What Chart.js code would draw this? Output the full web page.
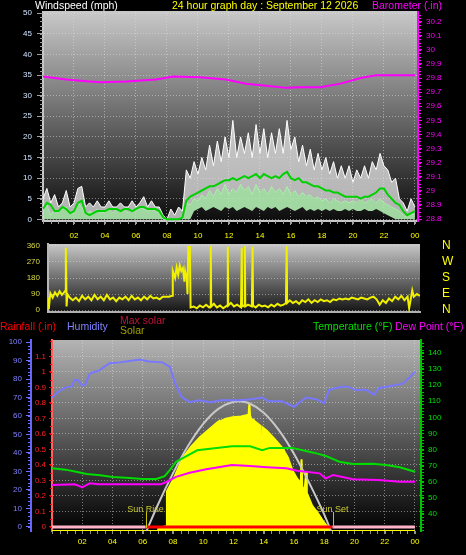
<!DOCTYPE html>
<html>
<head>
<meta charset="utf-8">
<script src="https://cdn.jsdelivr.net/npm/chart.js@4.4.1/dist/chart.umd.min.js"></script>
<style>
  body { margin: 0; background: #000; }
  #page { position: relative; width: 466px; height: 555px; overflow: hidden; background: #000; }
  canvas { position: absolute; left: 0; }
  .lbl { position: absolute; font: 10.5px 'Liberation Sans', Arial, sans-serif; line-height: 12px; white-space: nowrap; }
</style>
</head>
<body>
<div id="page">
  <canvas id="windChart" width="466" height="243" style="top:0"></canvas>
  <canvas id="dirChart" width="466" height="85" style="top:233px"></canvas>
  <canvas id="envChart" width="466" height="219" style="top:336px"></canvas>

  <div class="lbl" style="left:35px;top:-1px;color:#fff">Windspeed (mph)</div>
  <div class="lbl" style="left:172px;top:-1px;color:#ffff00">24 hour graph day : September 12 2026</div>
  <div class="lbl" style="left:372px;top:-1px;color:#ff00ff">Barometer (.in)</div>

  <div class="lbl" style="left:0;top:320px;color:#ff0000">Rainfall (.in)</div>
  <div class="lbl" style="left:67px;top:320px;color:#8080ff">Humidity</div>
  <div class="lbl" style="left:120px;top:314px;color:#c0143c">Max solar</div>
  <div class="lbl" style="left:120px;top:324px;color:#a0a000">Solar</div>
  <div class="lbl" style="left:313px;top:320px;color:#00e000">Temperature (°F)</div>
  <div class="lbl" style="left:395px;top:320px;color:#ff00ff">Dew Point (°F)</div>
</div>
<script>
// tick labels
const hourTicks = [2, 4, 6, 8, 10, 12, 14, 16, 18, 20, 22, 24];
const windTicks = [0, 5, 10, 15, 20, 25, 30, 35, 40, 45, 50];
const baroTicks = [28.8, 28.9, 29, 29.1, 29.2, 29.3, 29.4, 29.5, 29.6, 29.7, 29.8, 29.9, 30, 30.1, 30.2];
const dirTicks = [0, 90, 180, 270, 360];
const compass = ['N', 'E', 'S', 'W', 'N'];
const humTicks = [0, 10, 20, 30, 40, 50, 60, 70, 80, 90, 100];
const rainTicks = [0, 0.1, 0.2, 0.3, 0.4, 0.5, 0.6, 0.7, 0.8, 0.9, 1, 1.1];
const tempTicks = [40, 50, 60, 70, 80, 90, 100, 110, 120, 130, 140];

// wind speed, every 15 minutes from 00:00 to 24:00 (mph)
const gust = [5, 7.5, 4, 6, 3, 4, 7, 3, 4, 7.5, 8, 3, 4, 3, 4.5, 3, 3, 4.5, 3, 3,
  4, 3, 3, 4.5, 3, 4, 5.5, 3, 4.5, 3, 3, 1, 0, 2.5, 1, 3, 2, 12, 10, 14,
  11, 15, 12, 18, 13, 19, 14, 20, 15, 24, 15, 20, 16, 21, 15, 23, 16, 22, 15, 21,
  16, 22, 16, 24, 17, 20, 14, 18, 13, 17, 12, 16, 12, 15, 11, 14, 10, 13, 10, 13,
  9, 12, 10, 13, 10, 14, 12, 16, 13, 12, 9, 10, 5, 4, 2, 5, 3];
const avgSpeed = [2.5, 4, 3.5, 2, 2, 3, 2.5, 1.5, 2, 4, 4.5, 1.5, 1, 1.5, 2, 2, 2, 2.5, 2.5, 2.5,
  2, 2.5, 2.5, 2, 2.5, 3, 3, 2.5, 2.5, 2.5, 2, 0.5, 0, 0, 0, 0, 0.5, 4.5, 5.5, 6,
  6.5, 7, 7.5, 8, 8, 8.5, 9, 9.5, 9.5, 10, 9.5, 10, 10.5, 10, 10.5, 11, 10, 11, 10.5, 10,
  10.5, 10, 11, 11.5, 10, 9.5, 10, 9, 9, 8.5, 8, 8, 7.5, 7, 7, 6.5, 6.5, 6, 5.5, 5.5,
  5.5, 5.5, 5, 5.5, 5.5, 6, 6.5, 7.5, 7.5, 6, 5, 4, 3.5, 2, 1, 1.5, 2];
const speed = [2, 3.5, 1, 2.5, 1.5, 2.5, 3, 1, 2, 4, 3, 1, 2, 1.5, 2.5, 1.5, 2, 2.5, 1.5, 2.5,
  2, 2.5, 1.5, 2.5, 2, 3, 2.5, 2, 2.5, 2, 1.5, 0, 0, 0, 0, 0, 1, 4, 3.5, 5,
  4.5, 6, 5, 7, 5.5, 7.5, 6, 8.5, 6, 7.5, 6.5, 8.5, 7, 8, 6, 8.5, 6.5, 7.5, 6, 8,
  6.5, 7.5, 6, 8, 6, 7, 5.5, 6.5, 5.5, 6, 5, 5.5, 4.5, 5, 4, 5, 4.5, 4, 4.5, 4,
  4.5, 4, 5, 4, 4.5, 5, 4, 5, 4, 3.5, 3, 2.5, 2, 1, 0.5, 1.5, 1];
const lull = [0, 0, 0, 0, 0, 0, 0, 0, 0, 0, 0, 0, 0, 0, 0, 0, 0, 0, 0, 0,
  0, 0, 0, 0, 0, 0, 0, 0, 0, 0, 0, 0, 0, 0, 0, 0, 0, 0, 0, 2,
  2.5, 3, 2, 2.5, 3, 2.5, 2, 3, 2.5, 3, 2, 2.5, 3, 2.5, 2, 3, 2.5, 2, 3, 2.5,
  3, 2, 2.5, 3, 2.5, 2, 2.5, 3, 2, 2.5, 2, 2.5, 2, 2.5, 2, 2.5, 2, 2, 2.5, 2,
  2.5, 2, 2, 2.5, 2, 2, 2.5, 2, 1.5, 1, 0.5, 0, 0, 0, 0, 0, 0];
const windHours = gust.map((_, i) => i / 4);

// barometer (in)
const baroHours = [0, 1.5, 3, 3.7, 5.4, 7.3, 8.4, 10.1, 11.8, 13.1, 14.4, 15.7, 16.6, 17.9, 19.2, 20.5, 21.5, 22.6, 24];
const baro = [29.81, 29.79, 29.775, 29.77, 29.775, 29.79, 29.81, 29.805, 29.79, 29.76, 29.745, 29.73, 29.735, 29.735, 29.76, 29.8, 29.82, 29.82, 29.82];

// wind direction (degrees)
const dirHours = [0, 0.05, 0.15, 0.3, 0.45, 0.6, 0.75, 0.9, 1.05, 1.12, 1.15, 1.2, 1.25, 1.4, 1.6, 1.8, 2, 2.2, 2.4, 2.6,
  2.8, 3, 3.2, 3.4, 3.6, 3.8, 4, 4.2, 4.4, 4.6, 4.8, 5, 5.2, 5.4, 5.6, 5.8, 6, 6.2, 6.4, 6.6,
  6.8, 7, 7.2, 7.4, 7.6, 7.8, 8, 8.05, 8.2, 8.3, 8.4, 8.5, 8.6, 8.7, 8.8, 8.85, 8.95, 9, 9.05, 9.1,
  9.15, 9.2, 9.4, 9.6, 9.8, 10, 10.2, 10.4, 10.48, 10.5, 10.53, 10.7, 10.9, 11.1, 11.3, 11.55, 11.6, 11.63, 11.8, 12,
  12.2, 12.45, 12.5, 12.53, 12.65, 12.7, 12.73, 12.9, 13.15, 13.2, 13.23, 13.4, 13.6, 13.8, 14, 14.2, 14.4, 14.6, 14.8, 15,
  15.2, 15.35, 15.4, 15.43, 15.6, 15.8, 16, 16.2, 16.4, 16.6, 16.8, 17, 17.2, 17.4, 17.6, 17.8, 18, 18.2, 18.4, 18.6,
  18.8, 19, 19.2, 19.4, 19.6, 19.8, 20, 20.2, 20.4, 20.6, 20.8, 21, 21.2, 21.4, 21.6, 21.8, 22, 22.2, 22.4, 22.6,
  22.8, 23, 23.2, 23.3, 23.4, 23.5, 23.6, 23.8, 24];
const windDir = [70, 5, 95, 70, 100, 80, 105, 85, 100, 110, 350, 20, 90, 70, 55, 70, 50, 80, 60, 75,
  55, 85, 60, 75, 55, 85, 60, 70, 50, 70, 60, 75, 55, 80, 60, 70, 55, 75, 60, 80,
  65, 70, 60, 75, 75, 75, 80, 220, 180, 240, 200, 250, 220, 235, 160, 220, 180, 90, 360, 300,
  360, 15, 20, 10, 25, 15, 30, 15, 20, 360, 20, 35, 15, 25, 10, 25, 355, 25, 40, 20,
  30, 15, 350, 20, 25, 360, 20, 30, 20, 355, 25, 15, 30, 20, 25, 15, 30, 20, 35, 25,
  30, 40, 360, 40, 55, 40, 50, 35, 55, 45, 60, 40, 55, 45, 60, 50, 55, 45, 60, 55,
  65, 60, 65, 60, 70, 65, 60, 70, 65, 60, 70, 75, 60, 30, 55, 40, 65, 50, 75, 60,
  80, 55, 75, 10, 60, 110, 75, 90, 80];

// humidity (%)
const humHours = [0, 0.4, 0.9, 1.3, 1.5, 1.7, 2, 2.2, 2.5, 2.7, 3.1, 3.8, 4.5, 5.8, 6.4, 7.3, 7.8, 8.1, 8.55, 9.1,
  9.7, 10.5, 11.2, 12.4, 13.2, 13.9, 14.3, 15.2, 16, 16.8, 17.5, 18, 18.3, 19, 19.5, 20.1, 20.8, 21.3, 21.6, 22.2,
  23.2, 23.6, 24];
const humidity = [70, 73, 75.5, 76, 79.5, 79.5, 76.5, 77, 83, 83.5, 84.5, 88.5, 89, 90.5, 89.5, 89, 86.5, 78.5, 70.5, 67.5,
  68.5, 67.5, 68.5, 68.5, 69, 70, 68, 68, 65, 70, 69, 67, 74, 75.5, 76, 74, 74, 71.5, 75, 76,
  77.5, 80.5, 84];

// temperature and dew point (F)
const tempHours = [0, 0.9, 1.6, 2.3, 3.2, 4, 4.9, 6, 6.9, 7.45, 7.8, 8.2, 8.8, 9.6, 10.6, 11.9, 13.1, 13.9, 14.4, 15.9,
  17, 17.5, 18.1, 19, 19.9, 21.2, 22.1, 23, 24];
const temperature = [68.3, 67.5, 66.2, 64.8, 64, 63, 62.5, 61.7, 61.7, 63.5, 67.3, 72.4, 75.5, 79.5, 80.7, 82, 82, 79.5, 81, 81,
  78.6, 77.6, 76, 72.4, 71, 71.2, 70.4, 69, 66.2];
const dewHours = [0, 1.5, 1.9, 2, 2.3, 2.5, 3.1, 5, 7.2, 7.6, 8.2, 9.1, 10.2, 11.9, 13.1, 14.2, 15.5, 16.2, 16.8, 17.7,
  18.1, 18.6, 19.9, 21.6, 23, 24];
const dewPoint = [58, 58.4, 57, 56.5, 58, 59, 58.5, 58.5, 58.5, 60, 63, 65.6, 67.7, 70.4, 69.8, 69, 68.3, 66.8, 66.2, 65.2,
  62, 64.2, 61.5, 61, 60, 60];

// solar radiation (W/m2)
const solarHours = [0, 7, 7.05, 7.55, 7.6, 8, 8.65, 9.2, 9.8, 10.4, 10.9, 11.05, 11.1, 11.15, 11.5, 11.95, 12.5, 13, 13.05, 13.1,
  13.15, 13.2, 13.3, 13.35, 13.4, 13.8, 13.9, 13.95, 14.2, 14.7, 15.25, 15.6, 15.9, 16.2, 16.45, 16.5, 16.55, 16.7, 16.8, 16.85,
  17.2, 17.6, 17.9, 18.2, 18.4, 24];
const solar = [0, 0, 20, 30, 250, 320, 460, 530, 590, 640, 680, 690, 560, 690, 705, 715, 720, 730, 800, 720,
  170, 700, 700, 240, 690, 660, 320, 650, 630, 580, 520, 460, 380, 330, 300, 450, 280, 250, 370, 240,
  160, 110, 65, 30, 0, 0];
const maxSolarHours = [6.25, 7, 8, 9, 10, 11, 12, 12.35, 13, 14, 15, 16, 17, 18, 18.45];
const maxSolar = [0, 165, 362, 535, 673, 767, 812, 815, 804, 743, 634, 486, 304, 104, 0];

// rainfall (in)
const rainHours = [0, 6.2, 18.55, 24];
const rain = [0, 0, 0, 0];

const sunTimes = [6.2, 18.55];
const sunLabels = ['Sun Rise', 'Sun Set'];

Chart.defaults.font.family = "'Liberation Sans', Arial, sans-serif";
Chart.defaults.font.size = 8;
Chart.defaults.animation = false;
Chart.defaults.plugins.legend.display = false;
Chart.defaults.plugins.tooltip.enabled = false;
Chart.defaults.elements.point.radius = 0;

const pts = (xs, ys) => ys.map((v, i) => ({ x: xs[i], y: v }));
const fixedTicks = list => scale => { scale.ticks = list.map(v => ({ value: v })); };
const fitBox = (w, h) => scale => {
  if (w !== null) scale.width = w;
  if (h !== null) scale.height = h;
  scale.paddingTop = scale.paddingBottom = scale.paddingLeft = scale.paddingRight = 0;
};
const trim = v => String(Number(v.toFixed(2)));
const hh = v => String(v % 24).padStart(2, '0');
const dotted = 'rgba(225,225,225,0.5)';

// grey gradient behind each plot
const panelBg = {
  id: 'panelBg',
  beforeDraw(chart, args, opts) {
    const { ctx, chartArea: a } = chart;
    const g = ctx.createLinearGradient(0, a.top, 0, a.bottom);
    g.addColorStop(0, opts.top);
    g.addColorStop(1, opts.bottom);
    ctx.save();
    ctx.fillStyle = g;
    ctx.fillRect(a.left, a.top, a.width, a.height);
    if (opts.topLine) {
      ctx.strokeStyle = opts.topLine;
      ctx.lineWidth = 2;
      ctx.beginPath();
      ctx.moveTo(a.left, a.top);
      ctx.lineTo(a.right, a.top);
      ctx.stroke();
    }
    ctx.restore();
  }
};

// small ticks between the labelled ones
const minorTicks = {
  id: 'minorTicks',
  afterDraw(chart, args, opts) {
    const ctx = chart.ctx;
    ctx.save();
    ctx.lineWidth = 1;
    (opts.items || []).forEach(it => {
      const s = chart.scales[it.scale];
      ctx.strokeStyle = it.color;
      for (let v = it.from; v <= it.to + 1e-9; v += it.step) {
        const p = Math.round(s.getPixelForValue(v)) + 0.5;
        ctx.beginPath();
        if (s.isHorizontal()) {
          ctx.moveTo(p, s.top); ctx.lineTo(p, s.top + it.len);
        } else if (s.position === 'left') {
          ctx.moveTo(s.right, p); ctx.lineTo(s.right - it.len, p);
        } else {
          ctx.moveTo(s.left, p); ctx.lineTo(s.left + it.len, p);
        }
        ctx.stroke();
      }
    });
    ctx.restore();
  }
};

// sunrise / sunset markers
const sunMarks = {
  id: 'sunMarks',
  afterDatasetsDraw(chart) {
    const { ctx, chartArea: a, scales: { x } } = chart;
    ctx.save();
    ctx.font = "9px 'Liberation Sans', Arial, sans-serif";
    ctx.textAlign = 'center';
    ctx.textBaseline = 'alphabetic';
    sunTimes.forEach((t, i) => {
      const px = Math.round(x.getPixelForValue(t)) + 0.5;
      ctx.strokeStyle = '#c8c800';
      ctx.lineWidth = 1;
      ctx.beginPath();
      ctx.moveTo(px, a.bottom - 19);
      ctx.lineTo(px, a.bottom - 3);
      ctx.stroke();
      ctx.fillStyle = '#c8c832';
      ctx.fillText(sunLabels[i], px - 1, a.bottom - 19);
    });
    ctx.restore();
  }
};

// wind speed + barometer
new Chart(document.getElementById('windChart'), {
  type: 'line',
  data: {
    datasets: [
      { data: pts(baroHours, baro), yAxisID: 'yBaro', borderColor: '#ff00ff', borderWidth: 2, order: 0 },
      { data: pts(windHours, avgSpeed), yAxisID: 'y', borderColor: '#00d000', borderWidth: 2, order: 1 },
      { data: pts(windHours, gust), yAxisID: 'y', borderColor: '#ffffff', borderWidth: 1,
        fill: 3, backgroundColor: 'rgba(232,232,232,0.75)', order: 3 },
      { data: pts(windHours, speed), yAxisID: 'y', borderColor: '#b4f0b4', borderWidth: 1,
        fill: 4, backgroundColor: 'rgba(176,236,176,0.9)', order: 2 },
      { data: pts(windHours, lull), yAxisID: 'y', borderColor: 'rgba(0,0,0,0)', borderWidth: 0, fill: false, order: 4 }
    ]
  },
  options: {
    responsive: false,
    devicePixelRatio: 1,
    layout: { padding: { top: 12 } },
    scales: {
      x: {
        type: 'linear', min: 0, max: 24.2,
        afterBuildTicks: fixedTicks(hourTicks), afterFit: fitBox(null, 22),
        ticks: { color: '#ffff00', padding: 6, callback: hh, maxRotation: 0, autoSkip: false },
        grid: { color: dotted, tickColor: '#a0a0a0', tickLength: 4 },
        border: { color: '#c8c8c8', width: 2, dash: [1, 2] }
      },
      y: {
        position: 'left', min: -0.4, max: 50.3,
        afterBuildTicks: fixedTicks(windTicks), afterFit: fitBox(43, null),
        ticks: { color: '#d0e4ff', padding: 5, autoSkip: false },
        grid: { color: dotted, tickColor: '#a0a0a0', tickLength: 6 },
        border: { color: '#c8c8c8', width: 2, dash: [1, 2] }
      },
      yBaro: {
        position: 'right', min: 28.786, max: 30.268,
        afterBuildTicks: fixedTicks(baroTicks), afterFit: fitBox(48, null),
        ticks: { color: '#ff00ff', padding: 4, callback: trim, autoSkip: false },
        grid: { drawOnChartArea: false, tickColor: '#ff00ff', tickLength: 4 },
        border: { color: '#ff00ff', width: 2 }
      }
    },
    plugins: {
      panelBg: { top: '#c8c8c8', bottom: '#0c0c0c', topLine: '#c8c8c8' },
      minorTicks: { items: [
        { scale: 'y', from: 0, to: 50, step: 1, len: 3, color: '#a0a0a0' },
        { scale: 'yBaro', from: 28.8, to: 30.25, step: 0.025, len: 3, color: '#ff00ff' },
        { scale: 'x', from: 0, to: 24, step: 0.5, len: 3, color: '#a0a0a0' }
      ] }
    }
  },
  plugins: [panelBg, minorTicks]
});

// wind direction
new Chart(document.getElementById('dirChart'), {
  type: 'line',
  data: {
    datasets: [
      { data: pts(dirHours, windDir), borderColor: '#f0f000', borderWidth: 2 }
    ]
  },
  options: {
    responsive: false,
    devicePixelRatio: 1,
    layout: { padding: { top: 11 } },
    scales: {
      x: {
        type: 'linear', min: 0, max: 24, afterFit: fitBox(null, 6),
        ticks: { display: false },
        grid: { display: false },
        border: { color: '#b0b0b0', width: 2 }
      },
      y: {
        position: 'left', min: -11, max: 371,
        afterBuildTicks: fixedTicks(dirTicks), afterFit: fitBox(48, null),
        ticks: { color: '#d8d848', padding: 8, autoSkip: false },
        grid: { color: dotted, drawTicks: false },
        border: { color: '#b8b8b8', width: 2, dash: [1, 2] }
      },
      yCompass: {
        position: 'right', min: -11, max: 371,
        afterBuildTicks: fixedTicks(dirTicks), afterFit: fitBox(46, null),
        ticks: { color: '#ffff00', font: { size: 12 }, padding: 14, autoSkip: false,
          callback: v => compass[dirTicks.indexOf(v)] },
        grid: { display: false },
        border: { display: false }
      }
    },
    plugins: {
      panelBg: { top: '#c8c8c8', bottom: '#141414' }
    }
  },
  plugins: [panelBg]
});

// rainfall, humidity, solar, temperature, dew point
new Chart(document.getElementById('envChart'), {
  type: 'line',
  data: {
    datasets: [
      { data: pts(rainHours, rain), yAxisID: 'yRain', borderWidth: 3, borderColor: '#ff0000', order: 0,
        segment: { borderColor: c => (c.p0.parsed.x >= sunTimes[0] && c.p1.parsed.x <= sunTimes[1]) ? '#ff0000' : '#ffb4c8' } },
      { data: pts(tempHours, temperature), yAxisID: 'yTemp', borderColor: '#00dc00', borderWidth: 2, order: 1 },
      { data: pts(dewHours, dewPoint), yAxisID: 'yTemp', borderColor: '#ff00ff', borderWidth: 2, order: 2 },
      { data: pts(humHours, humidity), yAxisID: 'yHum', borderColor: '#7878ff', borderWidth: 2, order: 3 },
      { data: pts(maxSolarHours, maxSolar), yAxisID: 'ySolar', borderColor: '#c8c8c8', borderWidth: 2,
        cubicInterpolationMode: 'monotone', order: 4 },
      { data: pts(solarHours, solar), yAxisID: 'ySolar', borderColor: '#ffff00', borderWidth: 2,
        fill: 'origin', backgroundColor: '#ffff00', order: 5 }
    ]
  },
  options: {
    responsive: false,
    devicePixelRatio: 1,
    layout: { padding: { top: 4 } },
    scales: {
      x: {
        type: 'linear', min: 0, max: 24.4,
        afterBuildTicks: fixedTicks(hourTicks), afterFit: fitBox(null, 24),
        ticks: { color: '#ffff00', padding: 3, callback: hh, maxRotation: 0, autoSkip: false },
        grid: { color: dotted, tickColor: '#909090', tickLength: 3 },
        border: { display: false, dash: [1, 2] }
      },
      yHum: {
        position: 'left', weight: 2, min: -2.2, max: 101.1,
        afterBuildTicks: fixedTicks(humTicks), afterFit: fitBox(31, null),
        ticks: { color: '#8080ff', padding: 4, autoSkip: false },
        grid: { drawOnChartArea: false, tickColor: '#7070ff', tickLength: 5 },
        border: { color: '#6464ff', width: 2 }
      },
      yRain: {
        position: 'left', weight: 1, min: -0.026, max: 1.206,
        afterBuildTicks: fixedTicks(rainTicks), afterFit: fitBox(21, null),
        ticks: { color: '#ff2020', padding: 3, callback: trim, autoSkip: false },
        grid: { color: dotted, tickColor: '#ff0000', tickLength: 3 },
        border: { color: '#ff6060', width: 2, dash: [1, 2] }
      },
      yTemp: {
        position: 'right', min: 29.4, max: 148,
        afterBuildTicks: fixedTicks(tempTicks), afterFit: fitBox(45, null),
        ticks: { color: '#00e000', padding: 4, autoSkip: false },
        grid: { drawOnChartArea: false, tickColor: '#00c000', tickLength: 3 },
        border: { color: '#00c000', width: 2 }
      },
      ySolar: { display: false, min: 0, max: 1200, afterFit: fitBox(0, null) }
    },
    plugins: {
      panelBg: { top: '#b4b4b4', bottom: '#000000' },
      minorTicks: { items: [
        { scale: 'yHum', from: 0, to: 100, step: 2, len: 3, color: '#7070ff' },
        { scale: 'yRain', from: 0, to: 1.2, step: 0.05, len: 2, color: '#ff0000' },
        { scale: 'yTemp', from: 30, to: 146, step: 2, len: 3, color: '#00c000' },
        { scale: 'x', from: 0, to: 24, step: 0.5, len: 3, color: '#909090' }
      ] }
    }
  },
  plugins: [panelBg, minorTicks, sunMarks]
});
</script>
</body>
</html>
